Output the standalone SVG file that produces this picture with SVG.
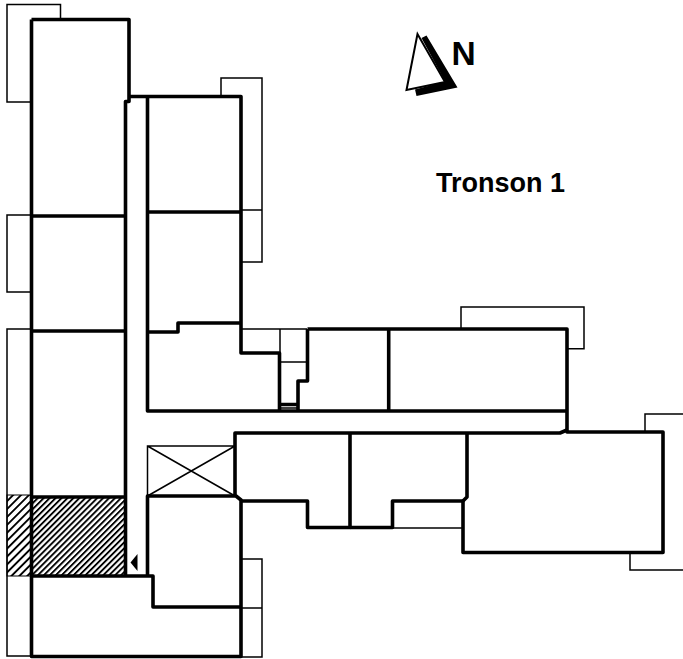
<svg xmlns="http://www.w3.org/2000/svg" width="683" height="659" viewBox="0 0 683 659">
<style>
.thin{fill:none;stroke:#000;stroke-width:1.5}
.wall{fill:none;stroke:#000;stroke-width:3.600;stroke-linejoin:round}
.label{font-family:"Liberation Sans",Arial,sans-serif;font-weight:bold;fill:#000}
</style>
<defs>
<pattern id="hatch" width="4.200" height="5" patternUnits="userSpaceOnUse" patternTransform="rotate(45)">
<rect width="4.200" height="5" fill="#fff"/>
<rect x="0" width="1.900" height="5" fill="#000"/>
</pattern>
<pattern id="hatch-wide" width="5.600" height="5" patternUnits="userSpaceOnUse" patternTransform="rotate(45)">
<rect width="5.600" height="5" fill="#fff"/>
<rect x="0" width="1.900" height="5" fill="#000"/>
</pattern>
</defs>
<rect width="683" height="659" fill="#fff"/>
<g id="hatching">
<rect x="7" y="495" width="24" height="81" fill="url(#hatch-wide)" stroke="#000" stroke-width="1"/>
<rect x="31" y="497" width="94" height="79" fill="url(#hatch)"/>
</g>
<g id="balconies">
<path class="thin" d="M31 102H7V4.500H60.500V20"/>
<path class="thin" d="M31 215H7V292H31"/>
<path class="thin" d="M31 329H7V656H31"/>
<path class="thin" d="M221 96V78H262V262H241M241 210H262"/>
<path class="thin" d="M242 559H262V657H242M242 608H262"/>
<path class="thin" d="M461 329V307H584V348.700H567"/>
<path class="thin" d="M645 432V414H683"/>
<path class="thin" d="M630 553V570H683"/>
<path class="thin" d="M241 329H307M280 329V353M280 362H307M280 408H298"/>
<path class="thin" d="M392 528H463"/>
</g>
<g id="lift">
<path class="thin" d="M147.500 496V446H235M147.500 496L235 446M147.500 446L235 496"/>
</g>
<g id="walls">
<path class="wall" d="M31.500 19.500H129V101.500H125.500V576M31.500 19.500V656.500H241V500L236 496H147.500V576M31.500 216H125.500M31.500 331H125.500M31.500 497H125.500M31.500 576H153V607H241"/>
<path class="wall" d="M129 96.500H241V353H279.500V411M147.500 96.500V411H567M147.500 212H241M147.500 332H178V323H241"/>
<path class="wall" d="M279.500 404.500H298M307.500 329H567V432H663V552.500H463V501H392.500V527.500H350M307.500 329V381H298V411M388.700 329V411"/>
<path class="wall" d="M235 496V433H560L567 430M350 433V527.500H307.500V501H241M467 433V497L463 501"/>
</g>
<g id="door-arrow">
<polygon points="137.500,554 137.500,571 130.500,562.500" fill="#000"/>
</g>
<g id="north">
<polygon points="417.500,34 406.500,90 445,82" fill="#fff" stroke="#000" stroke-width="2"/>
<polygon points="426.500,35.500 457.500,87.500 416.500,96 415,89.500 445,81.500 421.500,38" fill="#000"/>
<text class="label" x="451.500" y="65" font-size="33.500">N</text>
</g>
<g id="title">
<text class="label" x="436" y="192" font-size="27">Tronson 1</text>
</g>
</svg>
